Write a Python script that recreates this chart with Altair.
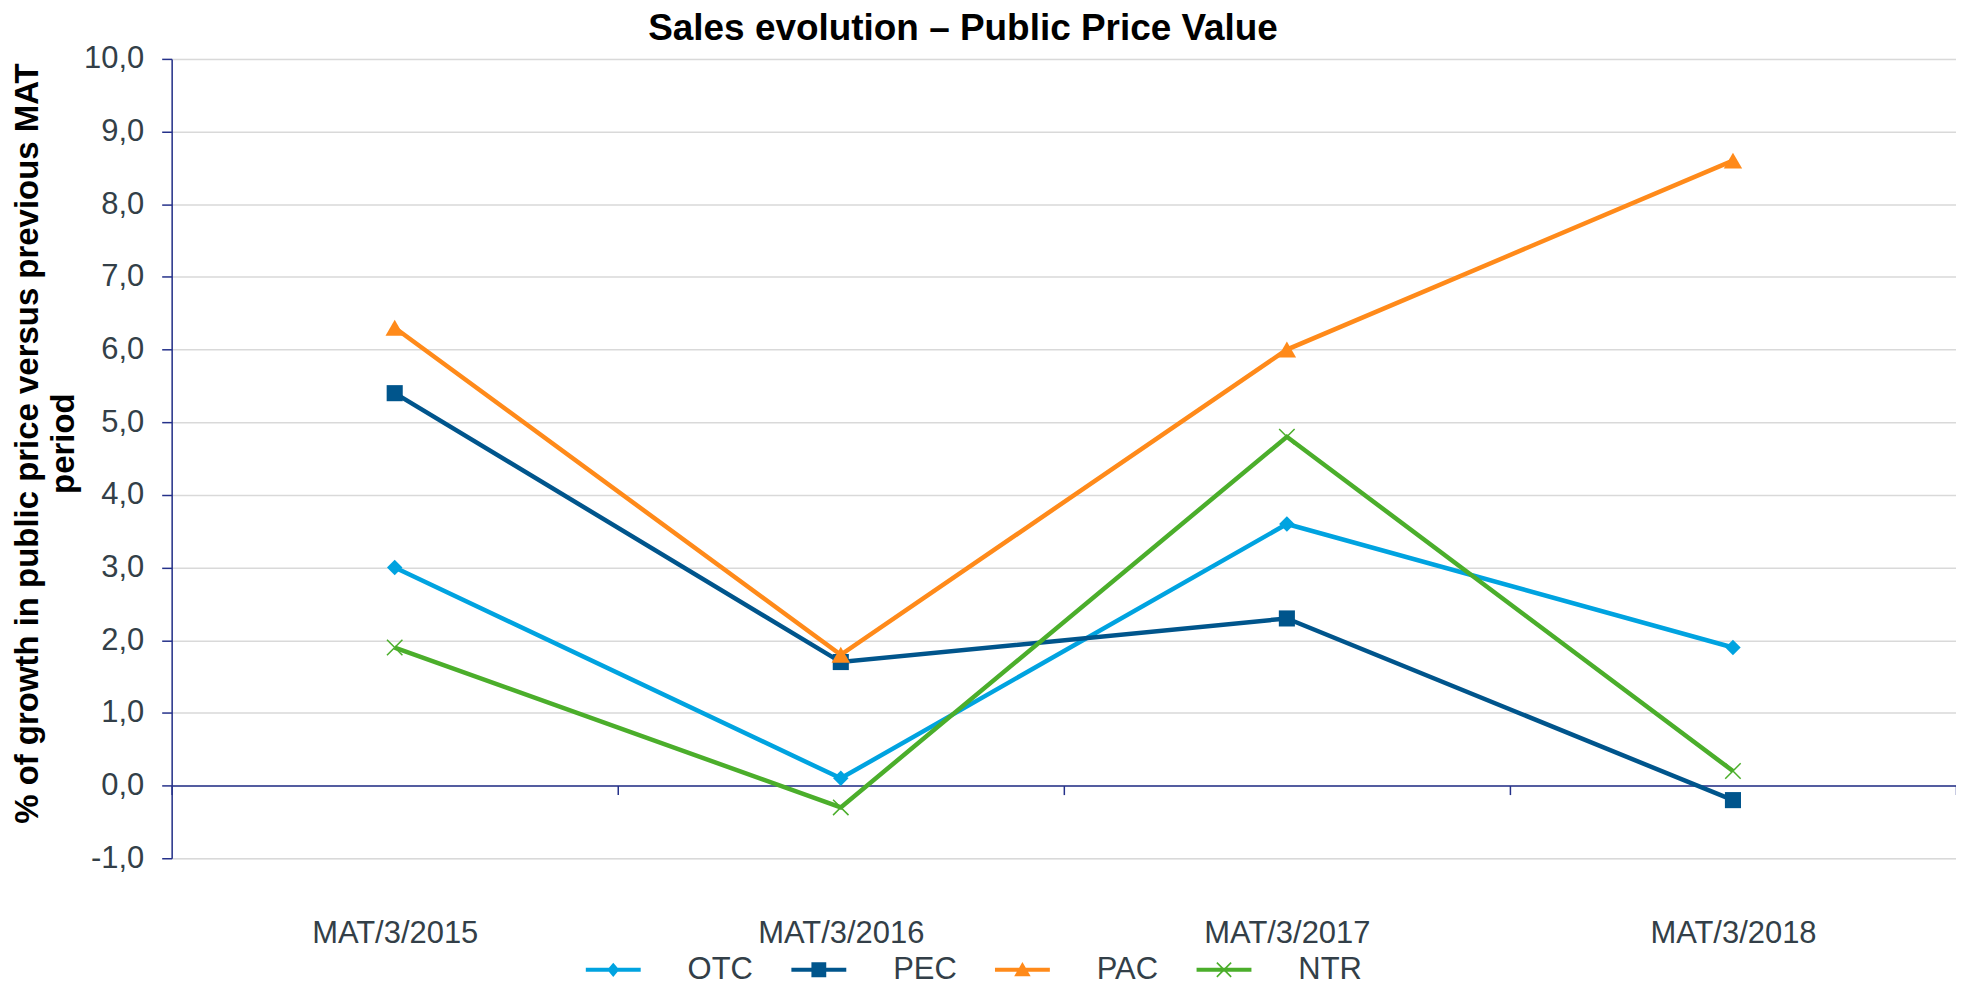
import altair as alt
import pandas as pd

periods = ["MAT/3/2015", "MAT/3/2016", "MAT/3/2017", "MAT/3/2018"]
series_names = ["OTC", "PEC", "PAC", "NTR"]
otc = [3.0, 0.1, 3.6, 1.9]
pec = [5.4, 1.7, 2.3, -0.2]
pac = [6.3, 1.8, 6.0, 8.6]
ntr = [1.9, -0.3, 4.8, 0.2]
colors = ["#00A3E0", "#00558C", "#FF8A1A", "#4BAE2B"]
y_ticks = list(range(-1, 11))

rows = []
for name, vals in zip(series_names, [otc, pec, pac, ntr]):
    for p, v in zip(periods, vals):
        rows.append({"period": p, "series": name, "value": v})
df = pd.DataFrame(rows)

FONT = "Liberation Sans"
NAVY = "#25318A"
TXT = "#333F48"

plot_shapes = ["diamond", "square", "triangle-up", "M-1,-1L1,1M-1,1L1,-1"]
plot_sizes = [240, 260, 340, 240]
plot_filled = [True, True, True, False]

bar = "M-1,-0.075L1,-0.075L1,0.075L-1,0.075Z"
legend_shapes = [
    bar + "M0,-0.26L0.22,0L0,0.26L-0.22,0Z",
    bar + "M-0.27,-0.27L0.27,-0.27L0.27,0.27L-0.27,0.27Z",
    bar + "M0,-0.28L0.3,0.24L-0.3,0.24Z",
    bar + "M-0.239,-0.281L0.281,0.239L0.239,0.281L-0.281,-0.239Z"
        + "M-0.281,0.239L0.239,-0.281L0.281,-0.239L-0.239,0.281Z",
]

x_enc = alt.X(
    "period:N",
    sort=periods,
    bandPosition=0.5,
    scale=alt.Scale(type="band", paddingInner=0, paddingOuter=0),
    axis=alt.Axis(
        title=None,
        labelAngle=0,
        labelFontSize=31,
        labelFont=FONT,
        labelColor=TXT,
        labelPadding=124,
        tickBand="extent",
        tickSize=9,
        tickColor=NAVY,
        tickWidth=1.5,
        domainColor=NAVY,
        domainWidth=1.5,
        offset=-72.8,
        grid=False,
    ),
)
y_enc = alt.Y(
    "value:Q",
    scale=alt.Scale(domain=[-1, 10], nice=False, zero=False),
    axis=alt.Axis(
        values=y_ticks,
        title=["% of growth in public price versus previous MAT", "period"],
        titleFontSize=33,
        titleFont=FONT,
        titleFontWeight="bold",
        titleColor="black",
        titleLineHeight=36,
        titlePadding=3,
        titleY=385,
        labelExpr="(datum.value < 0 ? '-' : '') + replace(format(abs(datum.value), '.1f'), '.', ',')",
        labelFontSize=31,
        labelFont=FONT,
        labelColor=TXT,
        labelPadding=18,
        tickSize=10,
        tickColor=NAVY,
        tickWidth=1.5,
        domainColor=NAVY,
        domainWidth=1.5,
        grid=True,
        gridColor="#D9D9D9",
        gridWidth=1.5,
    ),
)

base = alt.Chart(df)

lines = base.mark_line(strokeWidth=4.5).encode(
    x=x_enc,
    y=y_enc,
    color=alt.Color("series:N", sort=series_names,
                    scale=alt.Scale(domain=series_names, range=colors), legend=None),
    detail="series:N",
)

point_layers = []
for name, shp, sz, fl, col in zip(series_names, plot_shapes, plot_sizes, plot_filled, colors):
    point_layers.append(
        base.transform_filter(alt.datum.series == name)
        .mark_point(shape=shp, size=sz, filled=fl, opacity=1, color=col,
                    strokeWidth=1.5 if not fl else 0)
        .encode(x=x_enc, y=y_enc)
    )

leg = alt.Legend(
    title=None,
    orient="none",
    legendX=415,
    legendY=885,
    direction="horizontal",
    symbolSize=3025,
    symbolStrokeWidth=0,
    labelFontSize=31,
    labelFont=FONT,
    labelColor=TXT,
    labelOffset=47,
    columnPadding=38,
    padding=0,
)

legend_layer = base.transform_filter("false").mark_point(filled=True, opacity=1, size=3025).encode(
    x=x_enc,
    y=y_enc,
    color=alt.Color("series:N", scale=alt.Scale(domain=series_names, range=colors), legend=leg),
    shape=alt.Shape("series:N", scale=alt.Scale(domain=series_names, range=legend_shapes), legend=leg),
)

chart = (
    alt.layer(lines, *point_layers, legend_layer)
    .resolve_scale(color="independent", shape="independent")
    .properties(
        width=1788,
        height=801,
        title=alt.TitleParams(
            "Sales evolution – Public Price Value",
            fontSize=37,
            font=FONT,
            fontWeight="bold",
            color="black",
            anchor="middle",
            dx=-101,
            offset=-5,
        ),
        autosize=alt.AutoSizeParams(type="none"),
        padding={"left": 164, "top": 50, "right": 0, "bottom": 126},
    )
    .configure_view(stroke=None)
    .configure(background="white")
)

chart.save("out.html", embed_options={"renderer": "svg", "actions": False})
